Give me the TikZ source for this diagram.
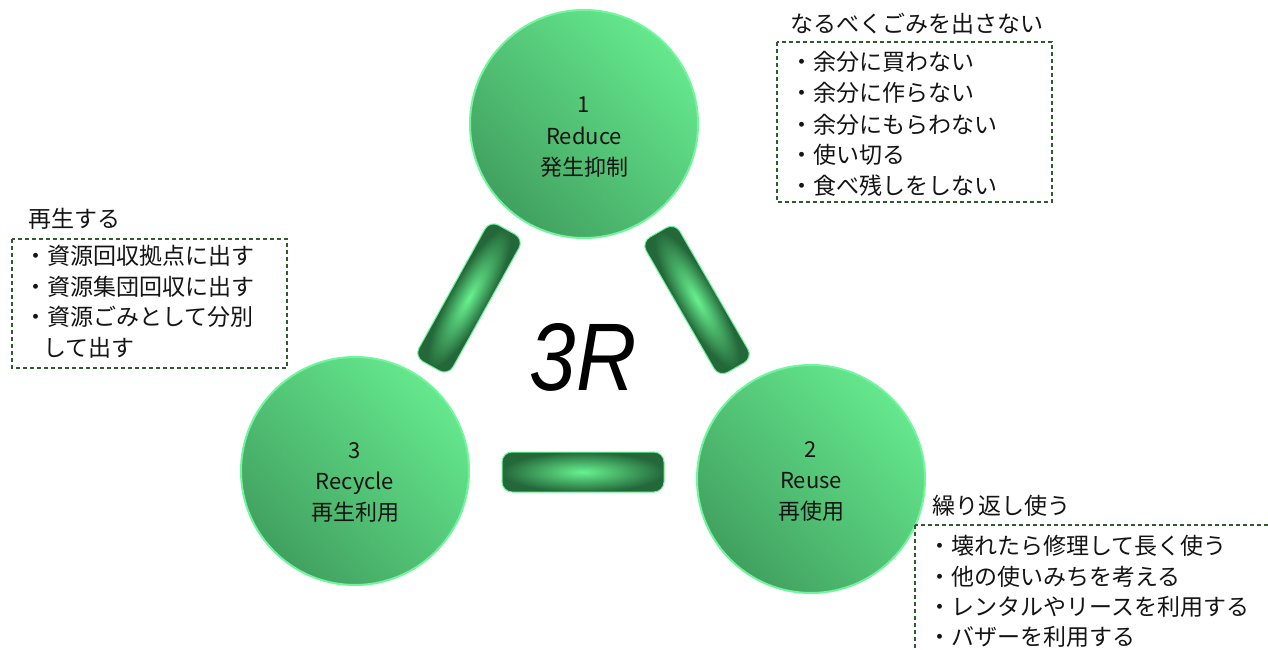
\documentclass[tikz,border=0pt]{standalone}
\usepackage{fontspec}
\usetikzlibrary{shadings}
\setmainfont{Noto Sans CJK JP}
\newfontfamily\threerfont{Liberation Sans}
\definecolor{cdark}{RGB}{58,145,86}
\definecolor{cmid}{RGB}{84,198,120}
\definecolor{clight}{RGB}{108,246,150}
\definecolor{cedge}{RGB}{112,246,156}
\definecolor{bdark}{RGB}{36,104,58}
\definecolor{blight}{RGB}{104,242,144}
\definecolor{dashc}{RGB}{45,92,45}
\definecolor{txt}{RGB}{20,20,20}
\tikzset{
  ball/.style={circle, minimum size=228pt, inner sep=0pt, draw=cedge, line width=2pt,
    shade, lower left=cdark, upper right=clight, upper left=cmid, lower right=cmid},
  lbl/.style={font=\fontsize{22}{26}\selectfont, inner sep=0pt, anchor=base, text=txt},
  item/.style={font=\fontsize{23}{28}\selectfont, inner sep=0pt, anchor=base west, text=txt},
  dbox/.style={draw=dashc, line width=1.2pt, dash pattern=on 4pt off 3pt},
  barfill/.style={inner color=blight, outer color=bdark, rounded corners=10pt},
  baredge/.style={draw=cedge, line width=1pt, rounded corners=10pt},
}
\begin{document}
\begin{tikzpicture}[x=1pt,y=-1pt]
\useasboundingbox[fill=white] (0,0) rectangle (1268,650);
\clip (0,0) rectangle (1268,650);

% circles
\node[ball] (reduce) at (584,124) {};
\node[ball] (recycle) at (355,471) {};
\node[ball] (reuse) at (811,479) {};

% bars
\begin{scope}[transform canvas={shift={(469,298)},rotate=61}]
  \shade[barfill] (-78,-19.5) rectangle (78,19.5);
  \draw[baredge] (-78,-19.5) rectangle (78,19.5);
\end{scope}
\begin{scope}[transform canvas={shift={(697,300)},rotate=-60}]
  \shade[barfill] (-78,-19.5) rectangle (78,19.5);
  \draw[baredge] (-78,-19.5) rectangle (78,19.5);
\end{scope}
\begin{scope}[transform canvas={shift={(583,472)}}]
  \shade[barfill] (-81,-20) rectangle (81,20);
  \draw[baredge] (-81,-20) rectangle (81,20);
\end{scope}

% 3R
\node[inner sep=0pt, text=black] (title) at (583,357)
  {\scalebox{0.87}[1]{\threerfont\itshape\fontsize{96}{100}\selectfont 3R}};

% circle labels
\node[lbl] (r1) at (584,113) {1};
\node[lbl] (r2) at (584,144) {Reduce};
\node[lbl] (r3) at (584,175) {発生抑制};
\node[lbl] (c1) at (355,458) {3};
\node[lbl] (c2) at (355,489) {Recycle};
\node[lbl] (c3) at (355,520) {再生利用};
\node[lbl] (u1) at (811,457) {2};
\node[lbl] (u2) at (811,488) {Reuse};
\node[lbl] (u3) at (811,519) {再使用};

% top-right box
\node[item] (tA) at (790,33) {なるべくごみを出さない};
\draw[dbox] (777,42) rectangle (1052,202);
\node[item] (tA1) at (790,71) {・余分に買わない};
\node[item] (tA2) at (790,102) {・余分に作らない};
\node[item] (tA3) at (790,133) {・余分にもらわない};
\node[item] (tA4) at (790,163) {・使い切る};
\node[item] (tA5) at (790,194) {・食べ残しをしない};

% left box
\node[item] (tB) at (28,227) {再生する};
\draw[dbox] (12,239) rectangle (287,368);
\node[item] (tB1) at (24,264) {・資源回収拠点に出す};
\node[item] (tB2) at (24,295) {・資源集団回収に出す};
\node[item] (tB3) at (24,325) {・資源ごみとして分別};
\node[item] (tB4) at (43,356) {して出す};

% bottom-right box
\node[item] (tC) at (932,514) {繰り返し使う};
\draw[dbox] (915,525) rectangle (1290,680);
\node[item] (tC1) at (928,554) {・壊れたら修理して長く使う};
\node[item] (tC2) at (928,585) {・他の使いみちを考える};
\node[item] (tC3) at (928,615) {・レンタルやリースを利用する};
\node[item] (tC4) at (928,645) {・バザーを利用する};
\end{tikzpicture}
\end{document}
